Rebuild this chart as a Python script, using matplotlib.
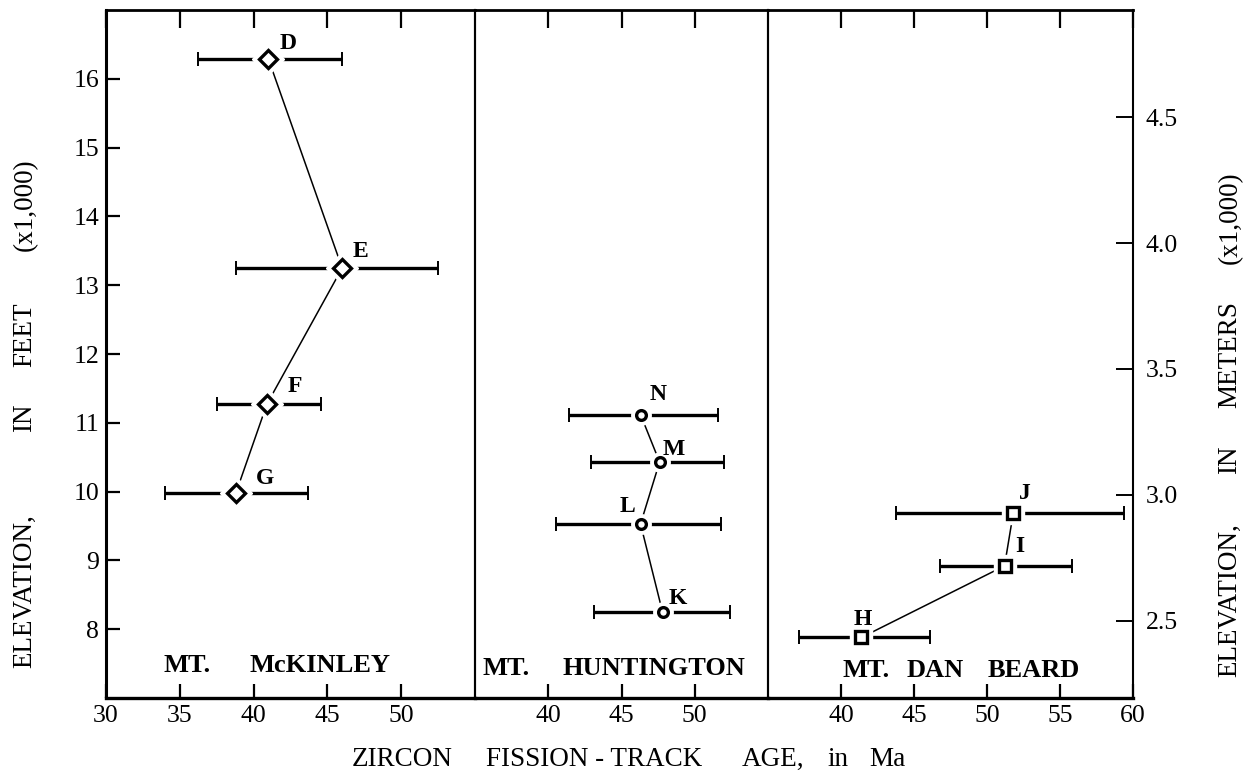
import matplotlib
matplotlib.use("Agg")
import matplotlib.pyplot as plt

plt.rcParams['font.family'] = ['Liberation Serif', 'DejaVu Serif']

# ---- data: zircon fission-track ages (Ma) with elevation (thousands of feet) ----
mckinley_names = ["D", "E", "F", "G"]
mckinley_age = [41.0, 46.0, 40.9, 38.8]
mckinley_lo = [36.2, 38.8, 37.5, 34.0]
mckinley_hi = [46.0, 52.5, 44.6, 43.7]
mckinley_elev = [16.29, 13.25, 11.27, 9.98]

huntington_names = ["N", "M", "L", "K"]
huntington_age = [46.3, 47.6, 46.3, 47.8]
huntington_lo = [41.4, 42.9, 40.5, 43.1]
huntington_hi = [51.6, 52.0, 51.8, 52.4]
huntington_elev = [11.12, 10.43, 9.53, 8.25]

danbeard_names = ["J", "I", "H"]
danbeard_age = [51.8, 51.2, 41.4]
danbeard_lo = [43.8, 46.8, 37.1]
danbeard_hi = [59.4, 55.8, 46.1]
danbeard_elev = [9.69, 8.92, 7.88]

feet_ticks = [8, 9, 10, 11, 12, 13, 14, 15, 16]
meter_ticks = [2.5, 3.0, 3.5, 4.0, 4.5]
x_ticks_1 = [30, 35, 40, 45, 50]
x_ticks_2 = [40, 45, 50]
x_ticks_3 = [40, 45, 50, 55, 60]

# ---- layout ----
W, H = 1248, 773
fig = plt.figure(figsize=(W / 100, H / 100), dpi=100)
edges = [106, 475, 768, 1133]
y_bot, y_top = 698, 10
b = 1 - y_bot / H
h = (y_bot - y_top) / H


def make_ax(i):
    return fig.add_axes([edges[i] / W, b, (edges[i + 1] - edges[i]) / W, h])


ax1, ax2, ax3 = make_ax(0), make_ax(1), make_ax(2)
xlims = [(30, 55), (35, 55), (35, 60)]
xticks = [x_ticks_1, x_ticks_2, x_ticks_3]
TICK_FS = 18.5
for ax, xl, xt in zip((ax1, ax2, ax3), xlims, xticks):
    ax.set_xlim(*xl)
    ax.set_ylim(7, 17)
    ax.set_xticks(xt)
    ax.set_xticklabels([str(v) for v in xt])
    ax.tick_params(axis='x', which='both', direction='in', top=True,
                   length=10, width=1.6, labelsize=TICK_FS, pad=5)
    ax.tick_params(axis='x', which='both', top=True, labeltop=False)
    for t in ax.xaxis.get_major_ticks():
        t.tick2line.set_markersize(13)
    ax.spines['top'].set_linewidth(2.0)
    ax.spines['bottom'].set_linewidth(2.4)
    ax.spines['left'].set_linewidth(1.5)
    ax.spines['right'].set_linewidth(1.5)
    ax.set_facecolor('none')

ax1.spines['left'].set_linewidth(2.2)
ax1.set_yticks(feet_ticks)
ax1.set_yticklabels([str(v) for v in feet_ticks])
ax1.tick_params(axis='y', direction='in', length=10, width=1.6,
                labelsize=TICK_FS, pad=5)
for ax in (ax2, ax3):
    ax.set_yticks([])

ax3r = ax3.twinx()
ax3r.set_ylim(2.194, 4.925)
ax3r.set_yticks(meter_ticks)
ax3r.set_yticklabels([f"{v:.1f}" for v in meter_ticks])
ax3r.tick_params(axis='y', direction='in', length=12, width=1.4,
                 labelsize=TICK_FS, pad=9)
for s in ax3r.spines.values():
    s.set_visible(False)


def draw_series(ax, names, age, lo, hi, elev, marker, msize, offsets):
    xerr = [[a - l for a, l in zip(age, lo)], [h_ - a for a, h_ in zip(age, hi)]]
    ax.errorbar(age, elev, xerr=xerr, fmt='none', ecolor='black',
                elinewidth=2.4, capsize=5, capthick=1.4, zorder=2)
    ax.plot(age, elev, '-', color='black', lw=1.1, zorder=3)
    # white halo so the bar breaks around each marker
    ax.plot(age, elev, linestyle='none', marker=marker, markersize=msize + 7,
            markerfacecolor='white', markeredgecolor='white', zorder=3.5)
    ax.plot(age, elev, linestyle='none', marker=marker, markersize=msize,
            markerfacecolor='white', markeredgecolor='black',
            markeredgewidth=2.4, zorder=4)
    for n, a, e, (dx, dy) in zip(names, age, elev, offsets):
        ax.annotate(n, (a, e), xytext=(dx, -dy), textcoords='offset pixels',
                    ha='center', va='center', fontsize=17, fontweight='bold',
                    zorder=5)


draw_series(ax1, mckinley_names, mckinley_age, mckinley_lo, mckinley_hi,
            mckinley_elev, 'D', 9.5,
            [(20, -15), (18, -17), (28, -18), (29, -14)])
draw_series(ax2, huntington_names, huntington_age, huntington_lo, huntington_hi,
            huntington_elev, 'o', 7,
            [(18, -20), (14, -13), (-13, -17), (15, -13)])
draw_series(ax3, danbeard_names, danbeard_age, danbeard_lo, danbeard_hi,
            danbeard_elev, 's', 8.5,
            [(12, -19), (15, -19), (1, -18)])

# ---- panel names ----
PANEL_FS = 19
ax1.text(33.87, 7.38, "MT.", fontsize=PANEL_FS, fontweight='bold', va='baseline')
ax1.text(39.7, 7.38, "McKINLEY", fontsize=PANEL_FS, fontweight='bold', va='baseline')
ax2.text(35.5, 7.34, "MT.", fontsize=PANEL_FS, fontweight='bold', va='baseline')
ax2.text(40.95, 7.34, "HUNTINGTON", fontsize=PANEL_FS, fontweight='bold', va='baseline')
ax3.text(40.07, 7.31, "MT.", fontsize=PANEL_FS, fontweight='bold', va='baseline')
ax3.text(44.5, 7.31, "DAN", fontsize=PANEL_FS, fontweight='bold', va='baseline')
ax3.text(50.07, 7.31, "BEARD", fontsize=PANEL_FS, fontweight='bold', va='baseline')

# ---- axis titles, word by word ----
LAB_FS = 19.5


def fig_text(px, py, s, **kw):
    fig.text(px / W, 1 - py / H, s, fontsize=LAB_FS, ha='center', va='center', **kw)


for word, py in [("ELEVATION,", 591), ("IN", 418), ("FEET", 335), ("(x1,000)", 205)]:
    fig_text(25, py, word, rotation=90)
for word, py in [("ELEVATION,", 600), ("IN", 460), ("METERS", 355), ("(x1,000)", 218)]:
    fig_text(1230, py, word, rotation=90)
for word, px in [("ZIRCON", 402), ("FISSION - TRACK", 594), ("AGE,", 773),
                 ("in", 838), ("Ma", 887)]:
    fig_text(px, 759, word)

fig.savefig("out.png", dpi=100)
